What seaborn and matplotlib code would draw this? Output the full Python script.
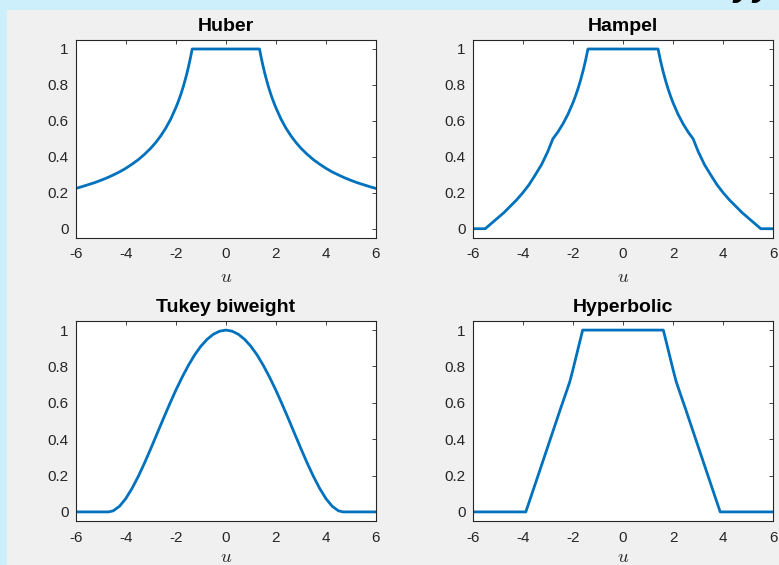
import matplotlib
matplotlib.use("Agg")
import matplotlib.pyplot as plt
import seaborn as sns
from matplotlib.patches import Rectangle

# Robust regression weight functions w(u), sampled along the residual axis u
huber_u = [-6.0, -5.75, -5.5, -5.25, -5.0, -4.75, -4.5, -4.25, -4.0, -3.75, -3.5, -3.25, -3.0, -2.8, -2.6, -2.4, -2.2,
           -2.0, -1.9, -1.8, -1.7, -1.6, -1.55, -1.5, -1.45, -1.4, -1.345,
           1.345, 1.4, 1.45, 1.5, 1.55, 1.6, 1.7, 1.8, 1.9, 2.0, 2.2, 2.4, 2.6, 2.8, 3.0, 3.25, 3.5, 3.75, 4.0,
           4.25, 4.5, 4.75, 5.0, 5.25, 5.5, 5.75, 6.0]
huber_w = [0.224, 0.234, 0.245, 0.256, 0.269, 0.283, 0.299, 0.316, 0.336, 0.359, 0.384, 0.414, 0.448, 0.480, 0.517, 0.560, 0.611,
           0.673, 0.708, 0.747, 0.791, 0.841, 0.868, 0.897, 0.928, 0.961, 1.0,
           1.0, 0.961, 0.928, 0.897, 0.868, 0.841, 0.791, 0.747, 0.708, 0.673, 0.611, 0.560, 0.517, 0.480, 0.448, 0.414,
           0.384, 0.359, 0.336, 0.316, 0.299, 0.283, 0.269, 0.256, 0.245, 0.234, 0.224]

hampel_u = [-6.0, -5.5, -5.25, -5.0, -4.75, -4.5, -4.25, -4.0, -3.75, -3.5, -3.25, -3.0, -2.9, -2.8, -2.6, -2.4, -2.2,
            -2.0, -1.9, -1.8, -1.7, -1.6, -1.5, -1.45, -1.4,
            1.4, 1.45, 1.5, 1.6, 1.7, 1.8, 1.9, 2.0, 2.2, 2.4, 2.6, 2.8, 2.9, 3.0, 3.25, 3.5, 3.75, 4.0, 4.25, 4.5,
            4.75, 5.0, 5.25, 5.5, 6.0]
hampel_w = [0.0, 0.0, 0.03, 0.06, 0.09, 0.125, 0.16, 0.20, 0.245, 0.30, 0.357, 0.43, 0.465, 0.50, 0.538, 0.583, 0.636,
            0.70, 0.737, 0.778, 0.824, 0.875, 0.933, 0.966, 1.0,
            1.0, 0.966, 0.933, 0.875, 0.824, 0.778, 0.737, 0.70, 0.636, 0.583, 0.538, 0.50, 0.465, 0.43, 0.357, 0.30,
            0.245, 0.20, 0.16, 0.125, 0.09, 0.06, 0.03, 0.0, 0.0]

tukey_u = [-6.0, -4.685, -4.5, -4.25, -4.0, -3.75, -3.5, -3.25, -3.0, -2.75, -2.5, -2.25, -2.0, -1.75, -1.5, -1.25, -1.0,
           -0.75, -0.5, -0.25, 0.0, 0.25, 0.5, 0.75, 1.0, 1.25, 1.5, 1.75, 2.0, 2.25, 2.5, 2.75, 3.0, 3.25, 3.5, 3.75,
           4.0, 4.25, 4.5, 4.685, 6.0]
tukey_w = [0.0, 0.0, 0.006, 0.031, 0.073, 0.129, 0.195, 0.269, 0.348, 0.430, 0.512, 0.592, 0.669, 0.740, 0.805, 0.863, 0.911,
           0.949, 0.977, 0.994, 1.0, 0.994, 0.977, 0.949, 0.911, 0.863, 0.805, 0.740, 0.669, 0.592, 0.512, 0.430, 0.348,
           0.269, 0.195, 0.129, 0.073, 0.031, 0.006, 0.0, 0.0]

hyper_u = [-6.0, -3.88, -3.5, -3.0, -2.5, -2.25, -2.12, -2.0, -1.9, -1.75, -1.61,
           1.61, 1.75, 1.9, 2.0, 2.12, 2.25, 2.5, 3.0, 3.5, 3.88, 6.0]
hyper_w = [0.0, 0.0, 0.155, 0.36, 0.565, 0.665, 0.718, 0.782, 0.838, 0.922, 1.0,
           1.0, 0.922, 0.838, 0.782, 0.718, 0.665, 0.565, 0.36, 0.155, 0.0, 0.0]

titles = ["Huber", "Hampel", "Tukey biweight", "Hyperbolic"]
xticks = [-6, -4, -2, 0, 2, 4, 6]
yticks = [0, 0.2, 0.4, 0.6, 0.8, 1]
ytick_labels = ["0", "0.2", "0.4", "0.6", "0.8", "1"]

sns.set_style("white")
plt.rcParams["font.family"] = ["Liberation Sans", "DejaVu Sans"]
plt.rcParams["mathtext.fontset"] = "cm"

W, H = 779, 565
fig = plt.figure(figsize=(W / 100, H / 100), dpi=100, facecolor="#cdeefb")
# window client area behind the axes
fig.patches.append(Rectangle((7 / W, 0), 1 - 7 / W, 1 - 10 / H, transform=fig.transFigure,
                             facecolor="#f0f0f0", edgecolor="none", zorder=-10))
fig.text(733 / W, 1 + 5.0 / H, "yy", fontsize=26, fontweight="bold", style="italic",
         va="baseline", ha="left", color="black")

# axes boxes in pixels: left, right, top, bottom
boxes = [(75.7, 376.0, 40.0, 237.7), (472.7, 773.3, 40.0, 237.7),
         (75.7, 376.0, 321.0, 521.0), (472.7, 773.3, 321.0, 521.0)]
series = [(huber_u, huber_w), (hampel_u, hampel_w), (tukey_u, tukey_w), (hyper_u, hyper_w)]
label_pads = [5.5, 5.5, 3.0, 3.0]

ink = "#262626"
for (l, r, t, b), (u, w), title, lp in zip(boxes, series, titles, label_pads):
    ax = fig.add_axes([l / W, 1 - b / H, (r - l) / W, (b - t) / H])
    ax.set_zorder(1)
    ax.set_facecolor("white")
    sns.lineplot(x=u, y=w, ax=ax, color="#0072BD", linewidth=2.0, sort=False, estimator=None)
    ax.set_xlim(-6, 6)
    ax.set_ylim(-0.05, 1.05)
    ax.set_xticks(xticks)
    ax.set_xticklabels([str(v) for v in xticks])
    ax.set_yticks(yticks)
    ax.set_yticklabels(ytick_labels)
    ax.tick_params(direction="in", length=3, width=0.6, top=True, right=True,
                   labelsize=11, color=ink, labelcolor=ink)
    ax.tick_params(axis="x", pad=7.0)
    ax.tick_params(axis="y", pad=5.0)
    for s in ax.spines.values():
        s.set_color(ink)
        s.set_linewidth(0.8)
        s.set_visible(True)
    ax.set_title(title, fontsize=14, fontweight="bold", pad=6.5, color="black")
    ax.set_xlabel("$u$", fontsize=13.5, labelpad=lp, color=ink)

fig.savefig("out.png", dpi=100, facecolor=fig.get_facecolor())
